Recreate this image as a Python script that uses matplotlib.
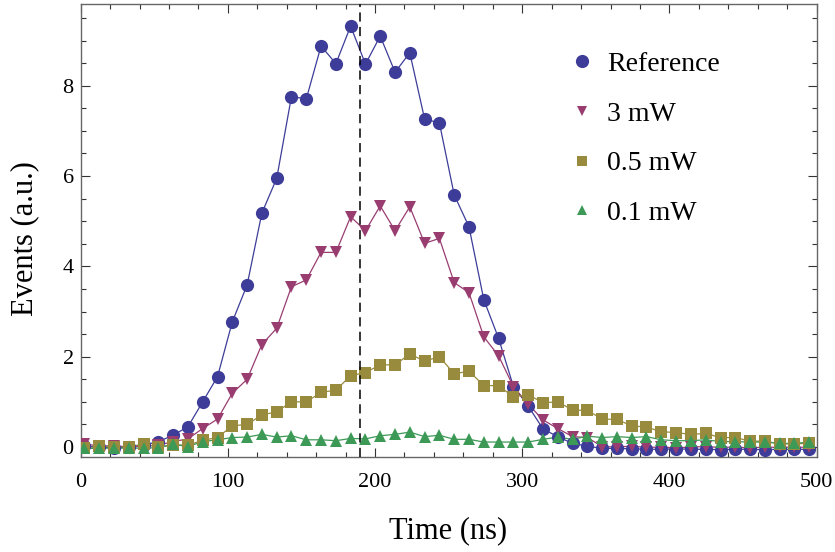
import matplotlib
matplotlib.use("Agg")
import matplotlib.pyplot as plt
from matplotlib.lines import Line2D
from matplotlib.ticker import MultipleLocator

plt.rcParams["font.family"] = ["Liberation Serif", "DejaVu Serif"]

# time bins (ns)
time_ns = [2.5, 12.6, 22.6, 32.7, 42.7, 52.8, 62.8, 72.9, 82.9, 93.0,
           103.0, 113.1, 123.1, 133.2, 143.2, 153.3, 163.3, 173.4, 183.4, 193.5,
           203.5, 213.6, 223.6, 233.7, 243.7, 253.8, 263.8, 273.9, 283.9, 294.0,
           304.0, 314.1, 324.1, 334.2, 344.2, 354.3, 364.3, 374.4, 384.4, 394.5,
           404.5, 414.6, 424.6, 434.7, 444.7, 454.8, 464.8, 474.9, 484.9, 495.0]

reference = [0.02, 0.0, -0.02, 0.0, 0.04, 0.12, 0.26, 0.45, 1.0, 1.56,
             2.77, 3.59, 5.18, 5.95, 7.76, 7.71, 8.88, 8.49, 9.32, 8.48,
             9.1, 8.3, 8.73, 7.26, 7.18, 5.58, 4.88, 3.26, 2.41, 1.34,
             0.91, 0.4, 0.23, 0.08, 0.02, -0.03, -0.03, -0.04, -0.05, -0.05,
             -0.04, -0.05, -0.05, -0.06, -0.05, -0.05, -0.06, -0.05, -0.05, -0.05]

mw_3 = [0.07, 0.02, 0.03, 0.0, 0.02, 0.04, 0.12, 0.18, 0.41, 0.62,
        1.19, 1.5, 2.27, 2.63, 3.55, 3.7, 4.31, 4.31, 5.1, 4.79,
        5.34, 4.79, 5.32, 4.51, 4.62, 3.64, 3.42, 2.44, 2.02, 1.34,
        0.95, 0.6, 0.41, 0.23, 0.21, 0.01, 0.0, 0.02, -0.01, 0.0,
        -0.02, 0.0, 0.01, -0.01, 0.0, -0.02, 0.0, -0.01, 0.0, -0.01]

mw_05 = [-0.03, 0.02, 0.0, 0.0, 0.07, 0.0, 0.05, 0.04, 0.15, 0.21,
         0.47, 0.5, 0.71, 0.78, 1.0, 1.0, 1.21, 1.26, 1.58, 1.65,
         1.82, 1.82, 2.06, 1.9, 2.0, 1.62, 1.68, 1.36, 1.36, 1.11,
         1.16, 0.98, 1.0, 0.82, 0.81, 0.62, 0.61, 0.47, 0.44, 0.34,
         0.32, 0.28, 0.3, 0.21, 0.21, 0.13, 0.13, 0.07, 0.07, 0.08]

mw_01 = [-0.03, -0.03, -0.02, -0.03, -0.02, -0.02, 0.06, 0.01, 0.12, 0.16,
         0.21, 0.22, 0.28, 0.22, 0.25, 0.16, 0.16, 0.14, 0.19, 0.18,
         0.25, 0.28, 0.33, 0.23, 0.26, 0.17, 0.17, 0.11, 0.11, 0.11,
         0.11, 0.17, 0.22, 0.17, 0.24, 0.21, 0.23, 0.21, 0.23, 0.16,
         0.14, 0.14, 0.16, 0.12, 0.12, 0.11, 0.11, 0.08, 0.08, 0.11]

marker_time = 190

series = [reference, mw_3, mw_05, mw_01]
labels = ["Reference", "3 mW", "0.5 mW", "0.1 mW"]
colors = ["#3D3D99", "#993D71", "#998B3D", "#3D9956"]
markers = ["o", "v", "s", "^"]
sizes = [9.5, 8.5, 8.0, 8.0]
legend_sizes = [9.5, 7.5, 7.5, 7.5]

fig = plt.figure(figsize=(8.35, 5.52), dpi=100)
ax = fig.add_axes([0.0966, 0.1726, 0.8814, 0.8201])

for i, y in enumerate(series):
    ax.plot(time_ns, y, color=colors[i], lw=0.9, zorder=2 + i * 0.1)
for i, y in enumerate(series):
    ax.plot(time_ns, y, linestyle="none", marker=markers[i], ms=sizes[i],
            color=colors[i], markeredgewidth=0, zorder=3 + i * 0.1)

ax.axvline(marker_time, color="black", lw=1.1, linestyle=(0, (6, 3.5)), zorder=5)

ax.set_xlim(0, 500)
ax.set_ylim(-0.215, 9.81)
ax.xaxis.set_major_locator(MultipleLocator(100))
ax.xaxis.set_minor_locator(MultipleLocator(20))
ax.yaxis.set_major_locator(MultipleLocator(2))
ax.yaxis.set_minor_locator(MultipleLocator(0.5))
ax.tick_params(which="both", direction="in", top=True, right=True,
               color="#333333", width=0.8, labelsize=16)
ax.tick_params(which="major", length=6.5)
ax.tick_params(which="minor", length=3.8)
ax.tick_params(axis="x", pad=12)
ax.tick_params(axis="y", pad=5)
for sp in ax.spines.values():
    sp.set_color("#666666")
    sp.set_linewidth(1.0)

fig.text(25 / 835, 1 - 239 / 552, "Events (a.u.)", rotation=90,
         ha="center", va="center", fontsize=22)
fig.text(448 / 835, 1 - 531 / 552, "Time (ns)", ha="center", va="center",
         fontsize=22)

handles = [Line2D([], [], linestyle="none", marker=markers[i], color=colors[i],
                  ms=legend_sizes[i], markeredgewidth=0) for i in range(4)]
ax.legend(handles, labels, loc="upper left", bbox_to_anchor=(0.662, 0.895),
          frameon=False, fontsize=20, handlelength=1.0, handletextpad=0.4,
          labelspacing=0.87, borderpad=0, borderaxespad=0)

fig.savefig("out.png", dpi=100)
